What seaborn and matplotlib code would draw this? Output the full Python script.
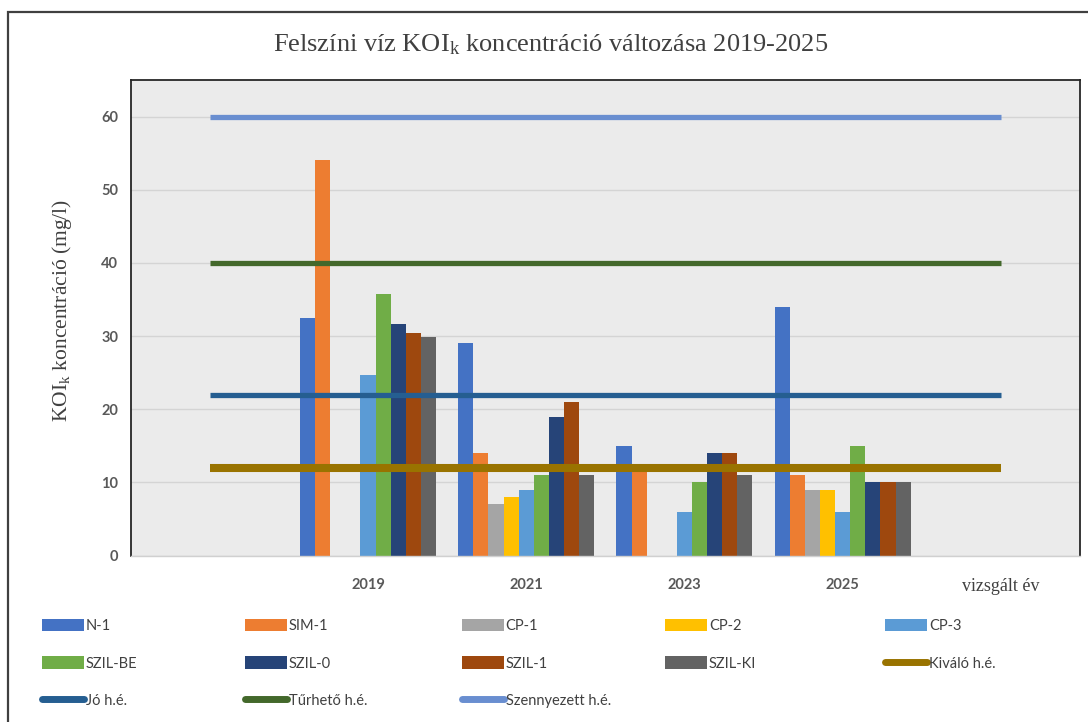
import numpy as np
import pandas as pd
import matplotlib
matplotlib.use("Agg")
import matplotlib.pyplot as plt
import seaborn as sns
from matplotlib.patches import Patch, Rectangle
from matplotlib.lines import Line2D

# ---- data ----
categories = ["", "2019", "2021", "2023", "2025", "vizsgált év"]
years = ["2019", "2021", "2023", "2025"]
stations = ["N-1", "SIM-1", "CP-1", "CP-2", "CP-3", "SZIL-BE", "SZIL-0", "SZIL-1", "SZIL-KI"]
N1 = [32.5, 29.0, 15.0, 34.0]
SIM1 = [54.0, 14.0, 12.0, 11.0]
CP1 = [np.nan, 7.0, np.nan, 9.0]
CP2 = [np.nan, 8.0, np.nan, 9.0]
CP3 = [24.7, 9.0, 6.0, 6.0]
SZIL_BE = [35.8, 11.0, 10.0, 15.0]
SZIL_0 = [31.6, 19.0, 14.0, 10.0]
SZIL_1 = [30.4, 21.0, 14.0, 10.0]
SZIL_KI = [29.9, 11.0, 11.0, 10.0]
series = [N1, SIM1, CP1, CP2, CP3, SZIL_BE, SZIL_0, SZIL_1, SZIL_KI]

threshold_names = ["Kiváló h.é.", "Jó h.é.", "Tűrhető h.é.", "Szennyezett h.é."]
threshold_values = [12, 22, 40, 60]
yticks = [0, 10, 20, 30, 40, 50, 60]

# ---- styles ----
bar_colors = ["#4472C4", "#ED7D31", "#A5A5A5", "#FFC000", "#5B9BD5",
              "#70AD47", "#264478", "#9E480E", "#636363"]
line_colors = ["#997300", "#255E91", "#43682B", "#698ED0"]
line_widths = [5.8, 3.8, 3.8, 3.8]

rows = []
for st, vals in zip(stations, series):
    for y, v in zip(years, vals):
        if not np.isnan(v):
            rows.append({"year": y, "station": st, "value": v})
df = pd.DataFrame(rows)

sns.set_style("white")
plt.rcParams["font.family"] = ["Lato", "DejaVu Sans"]
plt.rcParams["mathtext.fontset"] = "custom"
plt.rcParams["mathtext.rm"] = "Liberation Serif"
plt.rcParams["mathtext.it"] = "Liberation Serif:italic"

fig = plt.figure(figsize=(10.88, 7.22), dpi=100)
fig.patch.set_facecolor("white")
ax = fig.add_axes([130.7 / 1088, 1 - 555.5 / 722, (1080 - 130.7) / 1088, (555.5 - 80) / 722])
ax.set_facecolor("#EBEBEB")

sns.barplot(data=df, x="year", y="value", hue="station", order=categories,
            hue_order=stations, palette=bar_colors, width=0.86, saturation=1,
            errorbar=None, legend=False, ax=ax, linewidth=0, zorder=2)

xs = [0, len(categories) - 1]
for name, val, c, lw in zip(threshold_names, threshold_values, line_colors, line_widths):
    ax.plot(xs, [val, val], color=c, lw=lw, solid_capstyle="butt", zorder=3)

ax.set_xlim(-0.5, len(categories) - 0.5)
ax.set_ylim(0, 65)
ax.set_yticks(yticks)
ax.set_yticklabels([str(t) for t in yticks], fontsize=10.5, fontweight="bold", color="#595959")
ax.yaxis.grid(True, color="#D4D4D4", lw=1)
ax.set_axisbelow(True)
ax.tick_params(axis="both", length=0, pad=9)
ax.set_xticks(range(len(categories)))
ax.set_xticklabels(categories, fontsize=10.5, fontweight="bold", color="#595959")
lab = ax.get_xticklabels()[-1]
lab.set_fontfamily("Liberation Serif")
lab.set_fontweight("normal")
lab.set_fontsize(13)
lab.set_color("#404040")
ax.tick_params(axis="x", pad=16)
ax.set_xlabel("")
ax.set_ylabel("")
for s in ["left", "top", "right"]:
    ax.spines[s].set_color("#262626")
    ax.spines[s].set_linewidth(1.3)
ax.spines["bottom"].set_color("#D0D0D0")
ax.spines["bottom"].set_linewidth(1)

fig.text(551 / 1088, 1 - 45 / 722, "Felszíni víz KOI$_\\mathrm{k}$ koncentráció változása 2019-2025",
         ha="center", va="center", fontsize=19, family="Liberation Serif", color="#404040")
fig.text(62 / 1088, 1 - 310 / 722, "KOI$_\\mathrm{k}$ koncentráció (mg/l)", rotation=90,
         ha="center", va="center", fontsize=15.5, family="Liberation Serif", color="#404040")

# legend: built in row-major order, placed column by column
handles = [Patch(facecolor=c, edgecolor="none") for c in bar_colors] + \
          [Line2D([0], [0], color=c, lw=5, solid_capstyle="round") for c in line_colors]
labels = stations + threshold_names
col_x = [42, 245, 462, 665, 885]
ncol = 5
for ci, cx in enumerate(col_x):
    hs = handles[ci::ncol]
    ls = labels[ci::ncol]
    leg = fig.legend(hs, ls, loc="upper left", bbox_to_anchor=(cx / 1088, 1 - 619 / 722),
                     frameon=False, borderpad=0, borderaxespad=0, handlelength=2.9,
                     handleheight=0.9, handletextpad=0.1, labelspacing=1.6,
                     prop={"family": "Lato", "size": 10.5})
    for t in leg.get_texts():
        t.set_color("#404040")

fig.add_artist(Rectangle((8 / 1088, -0.05), 1.2, 1 - 12 / 722 + 0.05, transform=fig.transFigure,
                         fill=False, edgecolor="#404040", lw=1.6, clip_on=False))

fig.savefig("out.png", dpi=100)
